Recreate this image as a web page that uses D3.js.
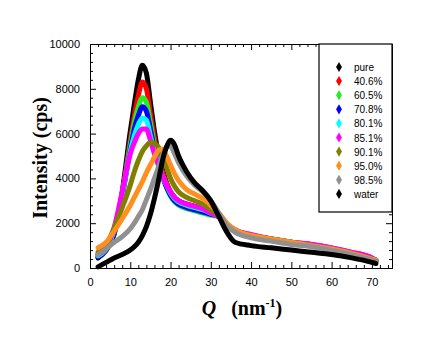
<!DOCTYPE html>
<html>
<head>
<meta charset="utf-8">
<script src="https://cdn.jsdelivr.net/npm/d3@7"></script>
<style>
  body { margin: 0; background: #fff; }
  .tick text { font-family: "Liberation Sans", Arial, sans-serif; font-size: 11px; }
</style>
</head>
<body>
<svg id="chart" width="443" height="348"></svg>
<script>
// scattering vector Q (nm^-1)
var qValues = [2, 4, 6, 8, 10, 11, 12, 13, 14, 15, 16, 17, 18, 19, 20, 21, 22, 24, 26, 28, 30, 32, 34, 36, 40, 45, 50, 55, 60, 65, 70, 71]

var seriesNames = ['pure', '40.6%', '60.5%', '70.8%', '80.1%', '85.1%', '90.1%', '95.0%', '98.5%', 'water']
var seriesColors = ['#000000', '#ff0000', '#22ee22', '#0000ff', '#00ffff', '#ff00ff', '#808000', '#ff9020', '#909090', '#000000']

var pure = [450, 800, 1500, 3400, 6100, 7300, 8400, 9050, 8700, 7400, 6100, 5100, 4400, 3800, 3400, 3150, 3000, 2850, 2750, 2650, 2450, 2300, 1900, 1650, 1400, 1250, 1100, 1000, 850, 650, 400, 300]
var s406 = [600, 900, 1600, 3300, 5700, 6800, 7700, 8300, 8000, 6900, 5800, 4900, 4300, 3800, 3400, 3150, 3000, 2850, 2750, 2600, 2450, 2300, 1950, 1700, 1450, 1300, 1150, 1050, 900, 700, 450, 350]
var s605 = [550, 850, 1600, 3200, 5500, 6500, 7200, 7600, 7400, 6500, 5500, 4700, 4100, 3600, 3200, 2950, 2800, 2650, 2550, 2450, 2350, 2300, 1950, 1700, 1450, 1300, 1150, 1000, 850, 650, 400, 350]
var s708 = [500, 800, 1600, 3200, 5300, 6200, 6800, 7200, 7000, 6200, 5300, 4600, 4100, 3600, 3250, 3000, 2850, 2700, 2600, 2500, 2400, 2300, 1950, 1700, 1450, 1300, 1150, 1000, 850, 650, 400, 350]
var s801 = [550, 850, 1700, 3300, 5200, 5900, 6400, 6700, 6600, 5900, 5200, 4600, 4100, 3700, 3350, 3100, 2950, 2800, 2700, 2600, 2450, 2300, 1950, 1700, 1450, 1300, 1150, 1000, 850, 650, 400, 350]
var s851 = [600, 900, 1800, 3400, 5100, 5600, 6000, 6200, 6200, 5700, 5100, 4600, 4100, 3700, 3400, 3150, 3000, 2850, 2750, 2650, 2450, 2300, 1950, 1700, 1500, 1300, 1150, 1050, 900, 700, 450, 350]
var s901 = [700, 1000, 1800, 2700, 3700, 4300, 4800, 5200, 5450, 5600, 5550, 5400, 5000, 4500, 4000, 3650, 3400, 3150, 3000, 2850, 2600, 2350, 1950, 1700, 1450, 1300, 1150, 1000, 850, 650, 400, 350]
var s950 = [900, 1150, 1650, 2200, 2800, 3150, 3500, 3850, 4250, 4600, 4950, 5250, 5300, 5000, 4600, 4200, 3900, 3500, 3300, 3100, 2800, 2450, 2000, 1700, 1450, 1300, 1150, 1000, 850, 650, 400, 350]
var s985 = [600, 850, 1150, 1400, 1750, 2000, 2300, 2600, 3050, 3500, 4000, 4500, 5000, 5400, 5450, 5100, 4700, 4100, 3700, 3400, 3000, 2450, 1900, 1600, 1350, 1200, 1050, 950, 800, 600, 350, 300]
var water = [50, 250, 450, 600, 800, 950, 1150, 1450, 1850, 2400, 3100, 3900, 4800, 5400, 5700, 5500, 5000, 4300, 3800, 3450, 3000, 2300, 1600, 1150, 1000, 900, 800, 700, 600, 450, 250, 200]

var xTicks = [0, 10, 20, 30, 40, 50, 60, 70]
var yTicks = [0, 2000, 4000, 6000, 8000, 10000]

var allSeries = [pure, s406, s605, s708, s801, s851, s901, s950, s985, water]

var svg = d3.select('#chart')
  , pLeft = 90, pRight = 392, pTop = 44, pBottom = 268

var x = d3.scaleLinear().domain([0, 75]).range([pLeft, pRight])
var y = d3.scaleLinear().domain([0, 10000]).range([pBottom, pTop])

var plot = svg.append('g')

//curves, pure first so water ends up on top
var line = d3.line()
  .x(function (d) { return x(d[0]) })
  .y(function (d) { return y(d[1]) })
  .curve(d3.curveMonotoneX)

allSeries.forEach(function (vals, i) {
  var pts = qValues.map(function (q, j) { return [q, vals[j]] })
  plot.append('path')
    .datum(pts)
    .attr('fill', 'none')
    .attr('stroke', seriesColors[i])
    .attr('stroke-width', 5)
    .attr('stroke-linejoin', 'round')
    .attr('stroke-linecap', 'round')
    .attr('d', line)
})

//axes with inward ticks on all four sides
function minorTicks (scale, step) {
  var d = scale.domain(), out = []
  for (var v = d[0]; v <= d[1] + 1e-9; v += step) out.push(v)
  return out
}

var xMinor = minorTicks(x, 2).filter(function (v) { return v % 10 !== 0 })
var yMinor = minorTicks(y, 400).filter(function (v) { return v % 2000 !== 0 })

svg.append('g').attr('transform', 'translate(0,' + pBottom + ')')
  .call(d3.axisBottom(x).tickValues(xMinor).tickSize(-3).tickFormat(''))
svg.append('g').attr('transform', 'translate(0,' + pTop + ')')
  .call(d3.axisTop(x).tickValues(xMinor).tickSize(-3).tickFormat(''))
svg.append('g').attr('transform', 'translate(' + pLeft + ',0)')
  .call(d3.axisLeft(y).tickValues(yMinor).tickSize(-3).tickFormat(''))
svg.append('g').attr('transform', 'translate(' + pRight + ',0)')
  .call(d3.axisRight(y).tickValues(yMinor).tickSize(-3).tickFormat(''))

svg.append('g').attr('transform', 'translate(0,' + pBottom + ')')
  .call(d3.axisBottom(x).tickValues(xTicks).tickSize(-6).tickPadding(10).tickFormat(d3.format('d')))
svg.append('g').attr('transform', 'translate(0,' + pTop + ')')
  .call(d3.axisTop(x).tickValues(xTicks).tickSize(-6).tickFormat(''))
svg.append('g').attr('transform', 'translate(' + pLeft + ',0)')
  .call(d3.axisLeft(y).tickValues(yTicks).tickSize(-6).tickPadding(10).tickFormat(d3.format('d')))
svg.append('g').attr('transform', 'translate(' + pRight + ',0)')
  .call(d3.axisRight(y).tickValues(yTicks).tickSize(-6).tickFormat(''))

svg.selectAll('.domain').attr('stroke', '#000')
svg.selectAll('.tick line').attr('stroke', '#000')
svg.selectAll('.tick text').attr('fill', '#000')

//legend box
var legX = 319, legTop = 44, legBottom = 212
svg.append('rect')
  .attr('x', legX).attr('y', legTop)
  .attr('width', pRight - legX).attr('height', legBottom - legTop)
  .attr('fill', '#fff').attr('stroke', '#000').attr('stroke-width', 1.2)

var leg = svg.append('g')
  .selectAll('g')
  .data(seriesNames)
  .enter()
  .append('g')
  .attr('transform', function (d, i) { return 'translate(339,' + (67 + i * 14.1) + ')' })

leg.append('path')
  .attr('d', d3.symbol().type(d3.symbolDiamond).size(30))
  .attr('fill', function (d, i) { return seriesColors[i] })

leg.append('text')
  .attr('x', 15).attr('y', 4)
  .style('font-family', '"Liberation Sans", Arial, sans-serif')
  .style('font-size', '10px')
  .text(function (d) { return d })

//axis titles
svg.append('text')
  .attr('transform', 'translate(47,158) rotate(-90)')
  .attr('text-anchor', 'middle')
  .style('font-family', '"Liberation Serif", "Times New Roman", serif')
  .style('font-weight', 'bold')
  .style('font-size', '20px')
  .text('Intensity (cps)')

var xt = svg.append('text')
  .attr('x', 242).attr('y', 315)
  .attr('text-anchor', 'middle')
  .style('font-family', '"Liberation Serif", "Times New Roman", serif')
  .style('font-weight', 'bold')
  .style('font-size', '20px')
xt.append('tspan').style('font-style', 'italic').text('Q')
xt.append('tspan').text('\u2002 (nm')
xt.append('tspan').attr('dy', -8).style('font-size', '12px').text('-1')
xt.append('tspan').attr('dy', 8).text(')')
</script>
</body>
</html>
